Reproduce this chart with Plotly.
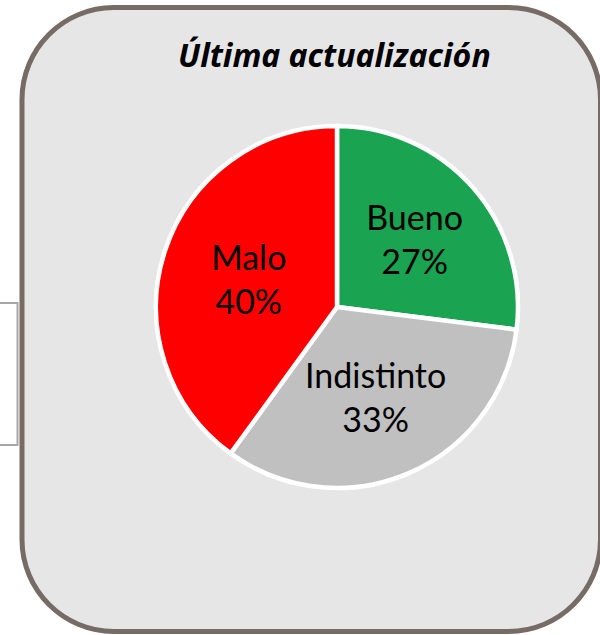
import plotly.graph_objects as go

W, H = 600, 635

labels = ["Bueno", "Indistinto", "Malo"]
values = [27, 33, 40]
colors = ["#1aa350", "#c0c0c0", "#ff0000"]
title_text = "Última actualización"

def px(x):
    return x / W

def py(y):
    return 1 - y / H

def rounded_rect(x0, y0, x1, y1, r):
    k = 0.5523 * r
    pts = []
    pts.append(f"M{px(x0 + r)},{py(y0)}")
    pts.append(f"L{px(x1 - r)},{py(y0)}")
    pts.append(f"C{px(x1 - r + k)},{py(y0)} {px(x1)},{py(y0 + r - k)} {px(x1)},{py(y0 + r)}")
    pts.append(f"L{px(x1)},{py(y1 - r)}")
    pts.append(f"C{px(x1)},{py(y1 - r + k)} {px(x1 - r + k)},{py(y1)} {px(x1 - r)},{py(y1)}")
    pts.append(f"L{px(x0 + r)},{py(y1)}")
    pts.append(f"C{px(x0 + r - k)},{py(y1)} {px(x0)},{py(y1 - r + k)} {px(x0)},{py(y1 - r)}")
    pts.append(f"L{px(x0)},{py(y0 + r)}")
    pts.append(f"C{px(x0)},{py(y0 + r - k)} {px(x0 + r - k)},{py(y0)} {px(x0 + r)},{py(y0)}")
    pts.append("Z")
    return " ".join(pts)

cx, cy, R = 337, 307, 181

fig = go.Figure()
fig.add_trace(go.Pie(
    labels=labels,
    values=values,
    sort=False,
    direction="clockwise",
    rotation=0,
    marker=dict(colors=colors, line=dict(color="white", width=4.5)),
    texttemplate="%{label}<br>%{percent:.0%}",
    textposition="inside",
    insidetextorientation="horizontal",
    textfont=dict(family="Lato, Carlito, Calibri, sans-serif", size=34, color="black"),
    hoverinfo="label+percent",
    showlegend=False,
    domain=dict(x=[px(cx - R), px(cx + R)], y=[py(cy + R), py(cy - R)]),
))

shapes = [
    dict(type="path", xref="paper", yref="paper",
         path=f"M{px(0)},{py(303)} L{px(17.5)},{py(303)} L{px(17.5)},{py(445)} L{px(0)},{py(445)}",
         line=dict(color="#a6a6a6", width=2), layer="below"),
    dict(type="path", xref="paper", yref="paper",
         path=rounded_rect(22, 7.5, 600.5, 631.5, 92),
         fillcolor="#e6e6e6", line=dict(color="#766b65", width=5), layer="below"),
]

fig.update_layout(
    width=W, height=H,
    margin=dict(l=0, r=0, t=0, b=0),
    paper_bgcolor="white",
    plot_bgcolor="white",
    shapes=shapes,
    uniformtext=dict(minsize=34, mode="show"),
    annotations=[dict(
        text=f"<b><i>{title_text}</i></b>",
        x=px(334), y=py(55), xref="paper", yref="paper",
        xanchor="center", yanchor="middle", showarrow=False,
        font=dict(family="Noto Sans, sans-serif", size=32, color="black"),
    )],
)

fig.write_html(
    "out.html",
    config={"displayModeBar": False},
    post_script="document.body.style.margin='0px';document.body.style.overflow='hidden';",
)
